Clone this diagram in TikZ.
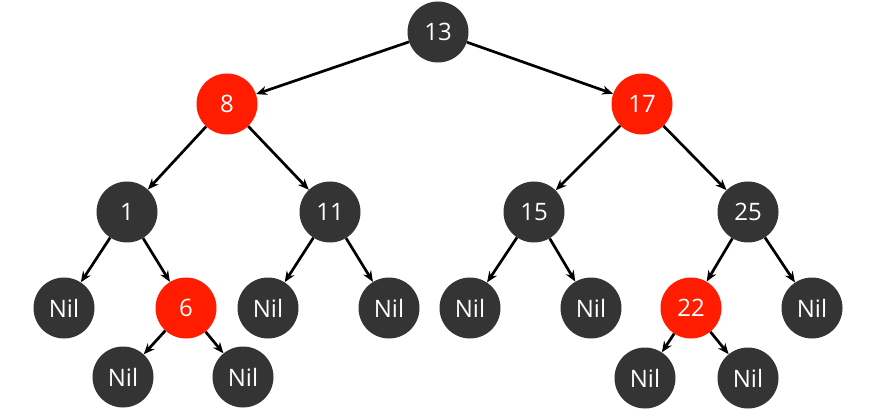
\documentclass[tikz,border=0pt]{standalone}
\usepackage{fontspec}
\setmainfont{Open Sans}
\usetikzlibrary{arrows.meta}

\definecolor{knotengrau}{RGB}{52,52,52}
\definecolor{knotenrot}{RGB}{255,28,0}

\tikzset{
  schwarz/.style={circle, fill=knotengrau, text=white, minimum size=61pt, inner sep=0pt,
    font=\fontsize{24}{28}\selectfont},
  rot/.style={schwarz, fill=knotenrot},
  kante/.style={-{Stealth[length=11pt,width=9pt]}, line width=2.7pt, black},
}

\begin{document}
\begin{tikzpicture}[x=1pt, y=-1pt]

	% Rahmen (Pixelmaße)
	\useasboundingbox (0,0) rectangle (890,411);

	% Wurzel
	\node[schwarz] (n13) at (438,32) {13};

	% Zweite Ebene
	\node[rot] (n8)  at (227,104) {8};
	\node[rot] (n17) at (642,104) {17};

	% Dritte Ebene
	\node[schwarz] (n1)  at (127,212) {1};
	\node[schwarz] (n11) at (330,212) {11};
	\node[schwarz] (n15) at (534,212) {15};
	\node[schwarz] (n25) at (748,212) {25};

	% Vierte Ebene
	\node[schwarz] (nilA) at (64,308)  {Nil};
	\node[rot]     (n6)   at (186,308) {6};
	\node[schwarz] (nilB) at (268,308) {Nil};
	\node[schwarz] (nilC) at (389,308) {Nil};
	\node[schwarz] (nilD) at (470,308) {Nil};
	\node[schwarz] (nilE) at (591,308) {Nil};
	\node[rot]     (n22)  at (691,308) {22};
	\node[schwarz] (nilF) at (812,308) {Nil};

	% Unterste Ebene
	\node[schwarz] (nilG) at (123,377) {Nil};
	\node[schwarz] (nilH) at (243,377) {Nil};
	\node[schwarz] (nilI) at (645,378) {Nil};
	\node[schwarz] (nilJ) at (748,378) {Nil};

	% Kanten
	\draw[kante] (n13) -- (n8);
	\draw[kante] (n13) -- (n17);
	\draw[kante] (n8) -- (n1);
	\draw[kante] (n8) -- (n11);
	\draw[kante] (n17) -- (n15);
	\draw[kante] (n17) -- (n25);
	\draw[kante] (n1) -- (nilA);
	\draw[kante] (n1) -- (n6);
	\draw[kante] (n11) -- (nilB);
	\draw[kante] (n11) -- (nilC);
	\draw[kante] (n15) -- (nilD);
	\draw[kante] (n15) -- (nilE);
	\draw[kante] (n25) -- (n22);
	\draw[kante] (n25) -- (nilF);
	\draw[kante] (n6) -- (nilG);
	\draw[kante] (n6) -- (nilH);
	\draw[kante] (n22) -- (nilI);
	\draw[kante] (n22) -- (nilJ);

\end{tikzpicture}
\end{document}
